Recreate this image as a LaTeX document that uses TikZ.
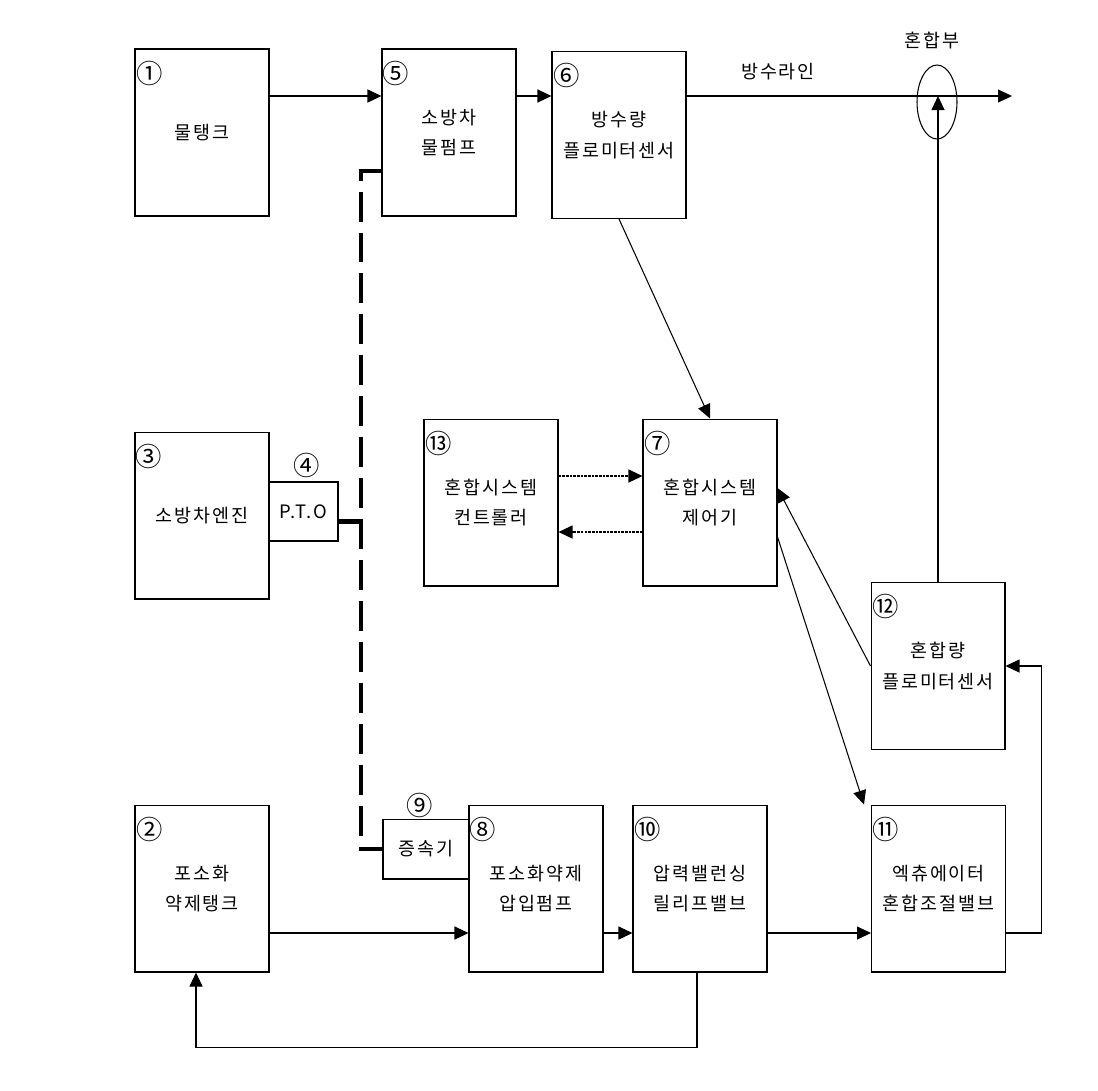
\documentclass[tikz,border=0pt]{standalone}
\usepackage{fontspec}
\setmainfont{Noto Sans CJK KR}[LetterSpace=10]
\usepackage{tikz}
\usetikzlibrary{arrows.meta}
\usetikzlibrary{shapes.geometric}

\begin{document}
\begin{tikzpicture}[x=0.02cm,y=-0.02cm,line width=0.6pt,>={Triangle[length=0.28cm,width=0.26cm]},
	main node/.style={rectangle, draw, minimum width=2.68cm, minimum height=3.34cm, align=center, font=\fontsize{10.5}{17.5}\selectfont},
	small node/.style={rectangle, draw, align=center, inner sep=0pt, font=\fontsize{10.5}{12}\selectfont},
	num node/.style={anchor=north west, inner sep=0pt, font=\fontsize{15}{15}\selectfont},
	shaft/.style={line width=2.8pt, dash pattern=on 0.6cm off 0.22cm},
	signal/.style={->, dash pattern=on 1.5pt off 0.6pt}]
	\useasboundingbox (0,0) rectangle (1098,1090);
	% Nodes
	\node[main node] (1) at (202,132.5) {물탱크};
	\node[main node] (5) at (449,132.5) {소방차\\물펌프};
	\node[main node] (6) at (619,135) {방수량\\플로미터센서};
	\node[main node] (3) at (202,515.5) {소방차엔진};
	\node[small node, minimum width=1.38cm, minimum height=1.18cm] (4) at (303.5,511.5) {P.T.O};
	\node[main node] (13) at (491,502.5) {혼합시스템\\컨트롤러};
	\node[main node] (7) at (710,502.5) {혼합시스템\\제어기};
	\node[main node] (12) at (938,666) {혼합량\\플로미터센서};
	\node[main node] (2) at (202,888.5) {포소화\\약제탱크};
	\node[small node, minimum width=1.72cm, minimum height=1.2cm] (9) at (426,849) {증속기};
	\node[main node] (8) at (536,888.5) {포소화약제\\압입펌프};
	\node[main node] (10) at (700,888.5) {압력밸런싱\\릴리프밸브};
	\node[main node] (11) at (938.5,888.5) {엑츄에이터\\혼합조절밸브};
	\node[draw, ellipse, minimum width=0.8cm, minimum height=1.48cm, inner sep=0pt] (mix) at (937,102) {};
	
	% Numbers
	\node[num node] at ([shift={(1,12)}]1.north west) {①};
	\node[num node] at ([shift={(0,12)}]5.north west) {⑤};
	\node[num node] at ([shift={(1,12)}]6.north west) {⑥};
	\node[num node] at ([shift={(0,12)}]3.north west) {③};
	\node[font=\fontsize{15}{15}\selectfont, inner sep=0pt] at (307,465) {④};
	\node[num node] at ([shift={(1,12)}]13.north west) {⑬};
	\node[num node] at ([shift={(1,12)}]7.north west) {⑦};
	\node[num node] at ([shift={(1,12)}]12.north west) {⑫};
	\node[num node] at ([shift={(1,12)}]2.north west) {②};
	\node[font=\fontsize{15}{15}\selectfont, inner sep=0pt] at (420,805) {⑨};
	\node[num node] at ([shift={(0,12)}]8.north west) {⑧};
	\node[num node] at ([shift={(1,12)}]10.north west) {⑩};
	\node[num node] at ([shift={(1,12)}]11.north west) {⑪};
	
	\node[font=\fontsize{10.5}{12}\selectfont] at (932,40) {혼합부};
	\node[font=\fontsize{10.5}{12}\selectfont] at (778,72) {방수라인};
	
	\coordinate (line) at (0,96);
	\coordinate (flow) at (0,933);
	\coordinate (out) at (1012,96);
	\coordinate (axle) at (361,0);
	
	% Water line
	\draw[->] (1.east |- line) -- (5.west |- line);
	\draw[->] (5.east |- line) -- (6.west |- line);
	\draw[->] (6.east |- line) -- (out);
	\draw[->] (12.north) -- (12.north |- line);
	
	% Signals
	\draw[->] (6.south) -- (7.north);
	\draw[signal] ([yshift=0.53cm]13.east) -- ([yshift=0.53cm]7.west);
	\draw[signal] ([yshift=-0.59cm]7.west) -- ([yshift=-0.59cm]13.east);
	\draw[->] (12.west) -- ([yshift=0.29cm]7.east);
	\draw[->] ([yshift=-0.69cm]7.east) -- ([xshift=-0.14cm]11.north west);
	\draw[->] ([yshift=-0.89cm]11.east) -- ++(35,0) |- (12.east);
	
	% Foam line
	\draw[->] (2.east |- flow) -- (8.west |- flow);
	\draw[->] (8.east |- flow) -- (10.west |- flow);
	\draw[->] (10.east |- flow) -- (11.west |- flow);
	\draw[->] ([xshift=-0.06cm]10.south) -- ++(0,75) -| ([xshift=-0.12cm]2.south);
	
	% Drive shaft
	\draw[shaft] ([yshift=-0.77cm]5.west) -| (axle |- 9.west) -- (9.west);
	\coordinate (pto) at ([yshift=-0.2cm]4.east);
	\draw[line width=2.8pt] (pto) -- (axle |- pto);
\end{tikzpicture}
\end{document}
